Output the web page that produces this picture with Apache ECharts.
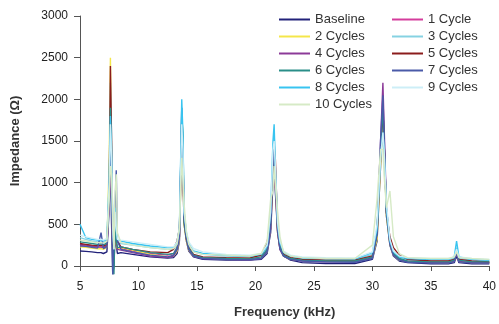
<!DOCTYPE html>
<html><head><meta charset="utf-8">
<script src="https://cdn.jsdelivr.net/npm/echarts@6/dist/echarts.min.js"></script>
<style>html,body{margin:0;padding:0;background:#fff}#c{width:499px;height:324px}</style>
</head><body><div id="c"></div>
<script>
var freq = [5,5.5,6,6.5,6.8,7.0,7.3,7.5,7.6,7.7,7.8,7.9,8.0,8.1,8.2,8.5,9.5,11,12.5,13.0,13.3,13.5,13.7,13.8,13.9,14.1,14.3,14.7,15.5,17.5,19.5,20.5,21.0,21.3,21.5,21.6,21.7,21.9,22.1,22.4,23,24,26,28.5,30.0,30.4,30.7,30.9,31.0,31.2,31.5,31.8,32.3,33,35,36.5,37.0,37.2,37.4,38.5,40];
var names = ["Baseline","1 Cycle","2 Cycles","3 Cycles","4 Cycles","5 Cycles","6 Cycles","7 Cycles","8 Cycles","9 Cycles","10 Cycles"];
var colors = ["#22227a","#d43c9c","#f4e64a","#86d2e2","#8c3a98","#8b1c1c","#2a8e88","#4a5aa8","#38c4f0","#cdeef7","#d6eac6"];
var baseline = [180,175,170,160,160,150,170, 700,1400,500,-100,0,400,250,150, 160,140,110,95, 100,150,300,1500,1100,500,300,180,110, 80,70,70,80, 150,400,1000,1300,900,400,200,120, 70,40,30,30, 80,300,1200,1900,1500,600,250,120,60,40, 25,25,40,120,40,25,25];
var cycle1 = [250,240,235,225,230,220,240, 800,1300,900,300,100,450,280,220, 210,180,150,130, 150,220,350,1600,1200,550,320,200,130, 100,90,90,110, 200,450,1100,1400,1000,420,220,130, 90,70,60,60, 110,350,1300,1800,1500,650,280,140,80,60, 50,45,60,180,60,45,40];
var cycle2 = [230,225,215,205,210,200,230, 1300,2500,1300,200,50,450,260,200, 220,190,140,110, 120,180,320,1500,1100,500,300,190,120, 95,90,90,100, 170,450,1100,1500,1000,400,210,120, 80,70,60,60, 100,320,1200,1700,1500,600,260,130,70,55, 45,40,55,160,55,40,40];
var cycle3 = [340,320,300,290,290,280,300, 1100,2200,1600,400,150,600,400,280, 270,250,220,200, 200,260,420,1900,1400,650,380,250,170, 140,120,110,130, 220,550,1300,1600,1200,500,260,160, 110,90,80,80, 140,450,1300,1800,1500,700,300,160,100,80, 70,70,90,220,90,70,60];
var cycle4 = [260,250,240,230,230,220,240, 800,1600,1000,200,50,500,300,200, 190,160,120,100, 120,200,350,1700,1300,600,350,200,120, 90,80,75,90, 180,450,1200,1400,1000,400,200,120, 80,60,50,50, 100,400,1500,2200,1700,700,280,140,80,50, 40,40,55,150,55,40,40];
var cycle5 = [270,260,250,245,250,240,260, 900,2400,1500,300,100,400,350,300, 230,200,170,160, 200,300,450,1600,1400,550,320,220,140, 110,100,95,130, 280,550,1100,1400,1300,450,230,140, 100,80,70,70, 120,400,1300,1900,1500,650,350,220,130,80, 60,60,80,180,80,60,50];
var cycle6 = [290,280,270,260,265,255,275, 900,1900,1200,300,-100,500,300,220, 230,200,160,140, 150,220,380,1800,1600,520,330,210,130, 100,90,85,110, 200,500,1200,1500,1100,450,230,130, 90,70,60,60, 110,380,1400,1900,1500,650,280,150,90,60, 50,50,70,180,70,50,50];
var cycle7 = [240,235,225,215,400,210,230, 850,1500,1000,-100,300,700,1150,300, 200,170,130,110, 130,200,350,1900,1300,570,330,200,120, 90,80,75,90, 170,450,1200,1500,1100,420,210,120, 80,60,50,45, 90,380,1500,2050,1600,650,260,130,70,45, 35,35,50,170,50,35,35];
var cycle8 = [500,340,320,310,310,300,320, 1000,1800,1400,500,200,700,450,320, 300,270,240,220, 220,280,450,2000,1600,650,400,270,180, 150,130,120,140, 240,650,1500,1700,1200,500,280,170, 120,100,90,85, 160,450,1300,1600,1400,700,300,170,110,90, 80,80,110,300,110,80,70];
var cycle9 = [370,350,335,320,320,310,330, 1000,1700,1300,450,200,650,450,320, 310,290,260,230, 230,290,460,1700,1400,650,420,290,210, 170,140,130,150, 250,650,1400,1500,1200,520,300,180, 130,110,100,95, 170,500,1300,1600,1400,750,320,180,120,100, 90,90,110,200,110,90,80];
var cycle10 = [310,300,290,280,280,275,295, 800,1200,1100,600,200,900,1100,400, 280,250,220,200, 210,260,450,1300,1300,750,400,260,170, 140,130,120,150, 300,800,900,1200,1000,650,350,170, 120,100,90,90, 250,800,1400,1400,1100,700,900,350,150,100, 90,90,110,170,100,90,80];
var values = [baseline,cycle1,cycle2,cycle3,cycle4,cycle5,cycle6,cycle7,cycle8,cycle9,cycle10];
var xTicks = [5,10,15,20,25,30,35,40];
var yTicks = [0,500,1000,1500,2000,2500,3000];

var series = names.map(function(n,i){
  return {
    name:n, type:'line', showSymbol:false, symbol:'none', clip:false,
    lineStyle:{width:1.4,color:colors[i]}, itemStyle:{color:colors[i]},
    data: freq.map(function(f,j){return [f, values[i][j]];})
  };
});
var leftNames = names.filter(function(n,i){return i%2===0;});
var rightNames = names.filter(function(n,i){return i%2===1;});
var legendCommon = {orient:'vertical', top:6, itemWidth:31, itemHeight:2, itemGap:0, icon:'rect',
  textStyle:{fontFamily:'Liberation Sans, Arial', fontSize:13, color:'#333', lineHeight:17}};
var chart = echarts.init(document.getElementById('c'), null, {renderer:'canvas'});
chart.setOption({
  animation:false,
  color:colors,
  grid:{left:80, right:5, top:16, bottom:56},
  legend:[
    Object.assign({}, legendCommon, {left:274, data:leftNames}),
    Object.assign({}, legendCommon, {left:387, data:rightNames})
  ],
  xAxis:{type:'value', min:xTicks[0], max:xTicks[xTicks.length-1], interval:5,
    name:'Frequency (kHz)', nameLocation:'middle', nameGap:40,
    nameTextStyle:{fontFamily:'Liberation Sans, Arial', fontWeight:'bold', fontSize:13, color:'#333'},
    axisLine:{lineStyle:{color:'#555'}}, axisTick:{length:5, lineStyle:{color:'#555'}},
    axisLabel:{fontFamily:'Liberation Sans, Arial', fontSize:12, color:'#222', margin:15},
    splitLine:{show:false}},
  yAxis:{type:'value', min:yTicks[0], max:yTicks[yTicks.length-1], interval:500,
    name:'Impedance (Ω)', nameLocation:'middle', nameGap:58,
    nameTextStyle:{fontFamily:'Liberation Sans, Arial', fontWeight:'bold', fontSize:13, color:'#333'},
    axisLine:{show:true, lineStyle:{color:'#555'}}, axisTick:{show:true, length:6, lineStyle:{color:'#555'}},
    axisLabel:{fontFamily:'Liberation Sans, Arial', fontSize:12, color:'#222', margin:12,
      formatter:function(v){return String(v);}},
    splitLine:{show:false}},
  series:series
});
</script></body></html>
